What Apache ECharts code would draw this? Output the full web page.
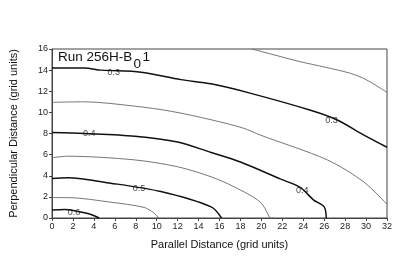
<!DOCTYPE html>
<html><head><meta charset="utf-8">
<script src="https://cdn.jsdelivr.net/npm/echarts@6/dist/echarts.min.js"></script>
<style>html,body{margin:0;padding:0;background:#fff}#c{width:415px;height:277px}</style>
</head><body><div id="c"></div>
<script>
// Contour lines: [parallel, perpendicular]
const c03 = [[0,14.2],[3.1,14.2],[4.7,14.0],[8.5,13.8],[12.3,13.1],[15.2,12.7],[19,11.8],[24.7,10.2],[27.2,9.3],[29.8,7.85],[32,6.7]];
const c035 = [[0,10.95],[3.1,11.0],[7.8,10.6],[11.4,10.1],[15.2,9.3],[18.3,8.5],[19.9,7.85],[26.3,5.5],[29.8,3.4],[32,1.3]];
const c04 = [[0,8.1],[3.1,8.0],[7.9,7.75],[12,7.2],[15.2,6.2],[18,5.3],[21.8,3.7],[23.7,2.9],[25,1.7],[26,1.05],[26.2,0]];
const c045 = [[0,5.7],[1.5,5.85],[7.9,5.5],[12,4.85],[15.2,3.9],[17.4,2.95],[19.9,1.5],[20.8,0]];
const c05 = [[0,3.75],[1.5,3.8],[5.6,3.3],[10.4,2.5],[15.2,1.05],[16.2,0]];
const c055 = [[0,1.93],[1.5,1.93],[5.6,1.5],[8.8,1.0],[9.7,0.5],[10.2,0]];
const c06 = [[0,0.75],[1.2,0.8],[3.4,0.42],[4.5,0]];
const c025 = [[19.1,16],[21,15.5],[23.7,14.8],[26,14.3],[28.5,13.7],[30,13.1],[32,11.9]];
const contourLabels = [[5.9,13.8,'0.3'],[26.7,9.26,'0.3'],[3.55,8.04,'0.4'],[23.9,2.63,'0.4'],[8.3,2.8,'0.5'],[2.1,0.54,'0.6']];
const xTicks = {min:0,max:32,interval:2};
const yTicks = {min:0,max:16,interval:2};

const chart = echarts.init(document.getElementById('c'));
function ln(d, thick){
  return {type:'line', data:d, showSymbol:false, smooth:0.3, silent:true,
    lineStyle:{color: thick?'#111':'#666', width: thick?1.5:0.9}};
}
const axisCommon = {
  splitLine:{show:false},
  axisLine:{lineStyle:{color:'#444',width:1}},
  axisTick:{length:3,lineStyle:{color:'#444'}},
  axisLabel:{color:'#222',fontSize:9,fontFamily:'Liberation Sans',margin:4},
  nameTextStyle:{color:'#111',fontSize:11,fontFamily:'Liberation Sans'}
};
chart.setOption({
  animation:false,
  grid:{left:51,right:28,top:49,bottom:59,show:true,borderColor:'#444',borderWidth:1},
  xAxis:Object.assign({type:'value',name:'Parallel Distance (grid units)',nameLocation:'middle',nameGap:21},xTicks,axisCommon),
  yAxis:Object.assign({type:'value',name:'Perpendicular Distance (grid units)',nameLocation:'middle',nameGap:33},yTicks,axisCommon),
  series:[
    ln(c025,false),ln(c03,true),ln(c035,false),ln(c04,true),ln(c045,false),ln(c05,true),ln(c055,false),ln(c06,true),
    {type:'scatter',symbolSize:0,data:contourLabels,silent:true,
     label:{show:true,position:'inside',formatter:p=>p.value[2],color:'#111',fontSize:9,fontFamily:'Liberation Sans'}}
  ],
  graphic:[
    {type:'text',left:58,top:50,style:{text:'Run 256H-B',font:'13.5px Liberation Sans',fill:'#111'}},
    {type:'text',left:133.5,top:57,style:{text:'0',font:'13.5px Liberation Sans',fill:'#111'}},
    {type:'text',left:142.5,top:50,style:{text:'1',font:'13.5px Liberation Sans',fill:'#111'}}
  ]
});
</script></body></html>
